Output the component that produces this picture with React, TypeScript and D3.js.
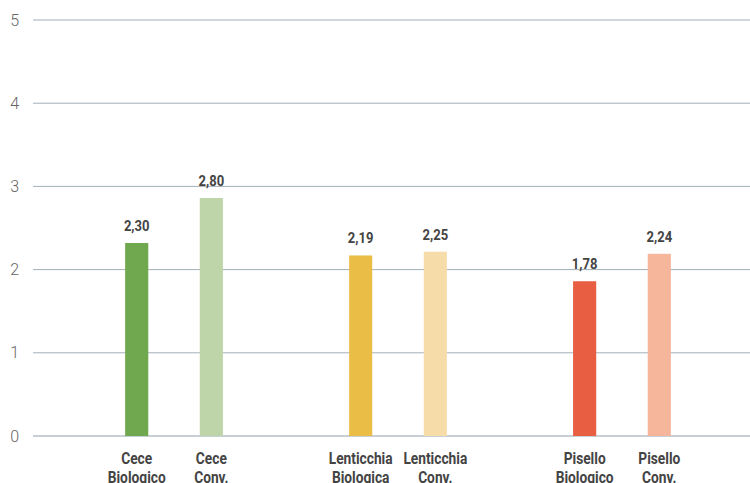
import React from "react";
import * as d3 from "d3";

const categories = ["Cece Biologico", "Cece Conv.", "", "Lenticchia Biologica", "Lenticchia Conv.", " ", "Pisello Biologico", "Pisello Conv."];
const categoryLines = [["Cece", "Biologico"], ["Cece", "Conv."], [], ["Lenticchia", "Biologica"], ["Lenticchia", "Conv."], [], ["Pisello", "Biologico"], ["Pisello", "Conv."]];
const values = [2.32, 2.86, null, 2.17, 2.215, null, 1.86, 2.19];
const valueLabels = ["2,30", "2,80", "", "2,19", "2,25", "", "1,78", "2,24"];
const colors = ["#6fa84f", "#bdd5a8", "", "#e9bd46", "#f5dca8", "", "#e85e42", "#f6b69b"];
const yTicks = [0, 1, 2, 3, 4, 5];

const W = 750;
const H = 483;

export default function App() {
  const y = d3.scaleLinear().domain([0, 5]).range([436, 20]);
  const x = d3.scalePoint<string>().domain(categories).range([136.7, 659.3]);
  const step = x.step();
  const bw = step * 0.31;
  const labelFont = "Roboto, sans-serif";

  return (
    <svg width={W} height={H} style={{ position: "absolute", left: 0, top: 0, background: "#fff" }}>
      {yTicks.map((t) => (
        <g key={t}>
          <line x1={33} x2={750} y1={y(t)} y2={y(t)} stroke={t === 0 ? "#8f9fa9" : "#a3b0b8"} strokeWidth={1} />
          <text x={19} y={y(t)} dy="0.35em" textAnchor="end" fontFamily="Roboto, sans-serif" fontWeight={300} fontSize={16} fill="#666">
            {t}
          </text>
        </g>
      ))}
      {categories.map((c, i) => {
        const v = values[i];
        const cx = x(c)!;
        return (
          <g key={i}>
            {v != null && (
              <>
                <rect x={cx - bw / 2} y={y(v)} width={bw} height={y(0) - y(v)} fill={colors[i]} />
                <text transform={`translate(${cx},${y(v) - 12}) scale(0.87,1)`} textAnchor="middle" fontFamily={labelFont} fontWeight={700} fontSize={15} fill="#444">
                  {valueLabels[i]}
                </text>
              </>
            )}
            {categoryLines[i].map((ln, j) => (
              <text key={j} transform={`translate(${cx},${464 + j * 19}) scale(0.86,1)`} textAnchor="middle" fontFamily={labelFont} fontWeight={700} fontSize={16} fill="#444">
                {ln}
              </text>
            ))}
          </g>
        );
      })}
    </svg>
  );
}
